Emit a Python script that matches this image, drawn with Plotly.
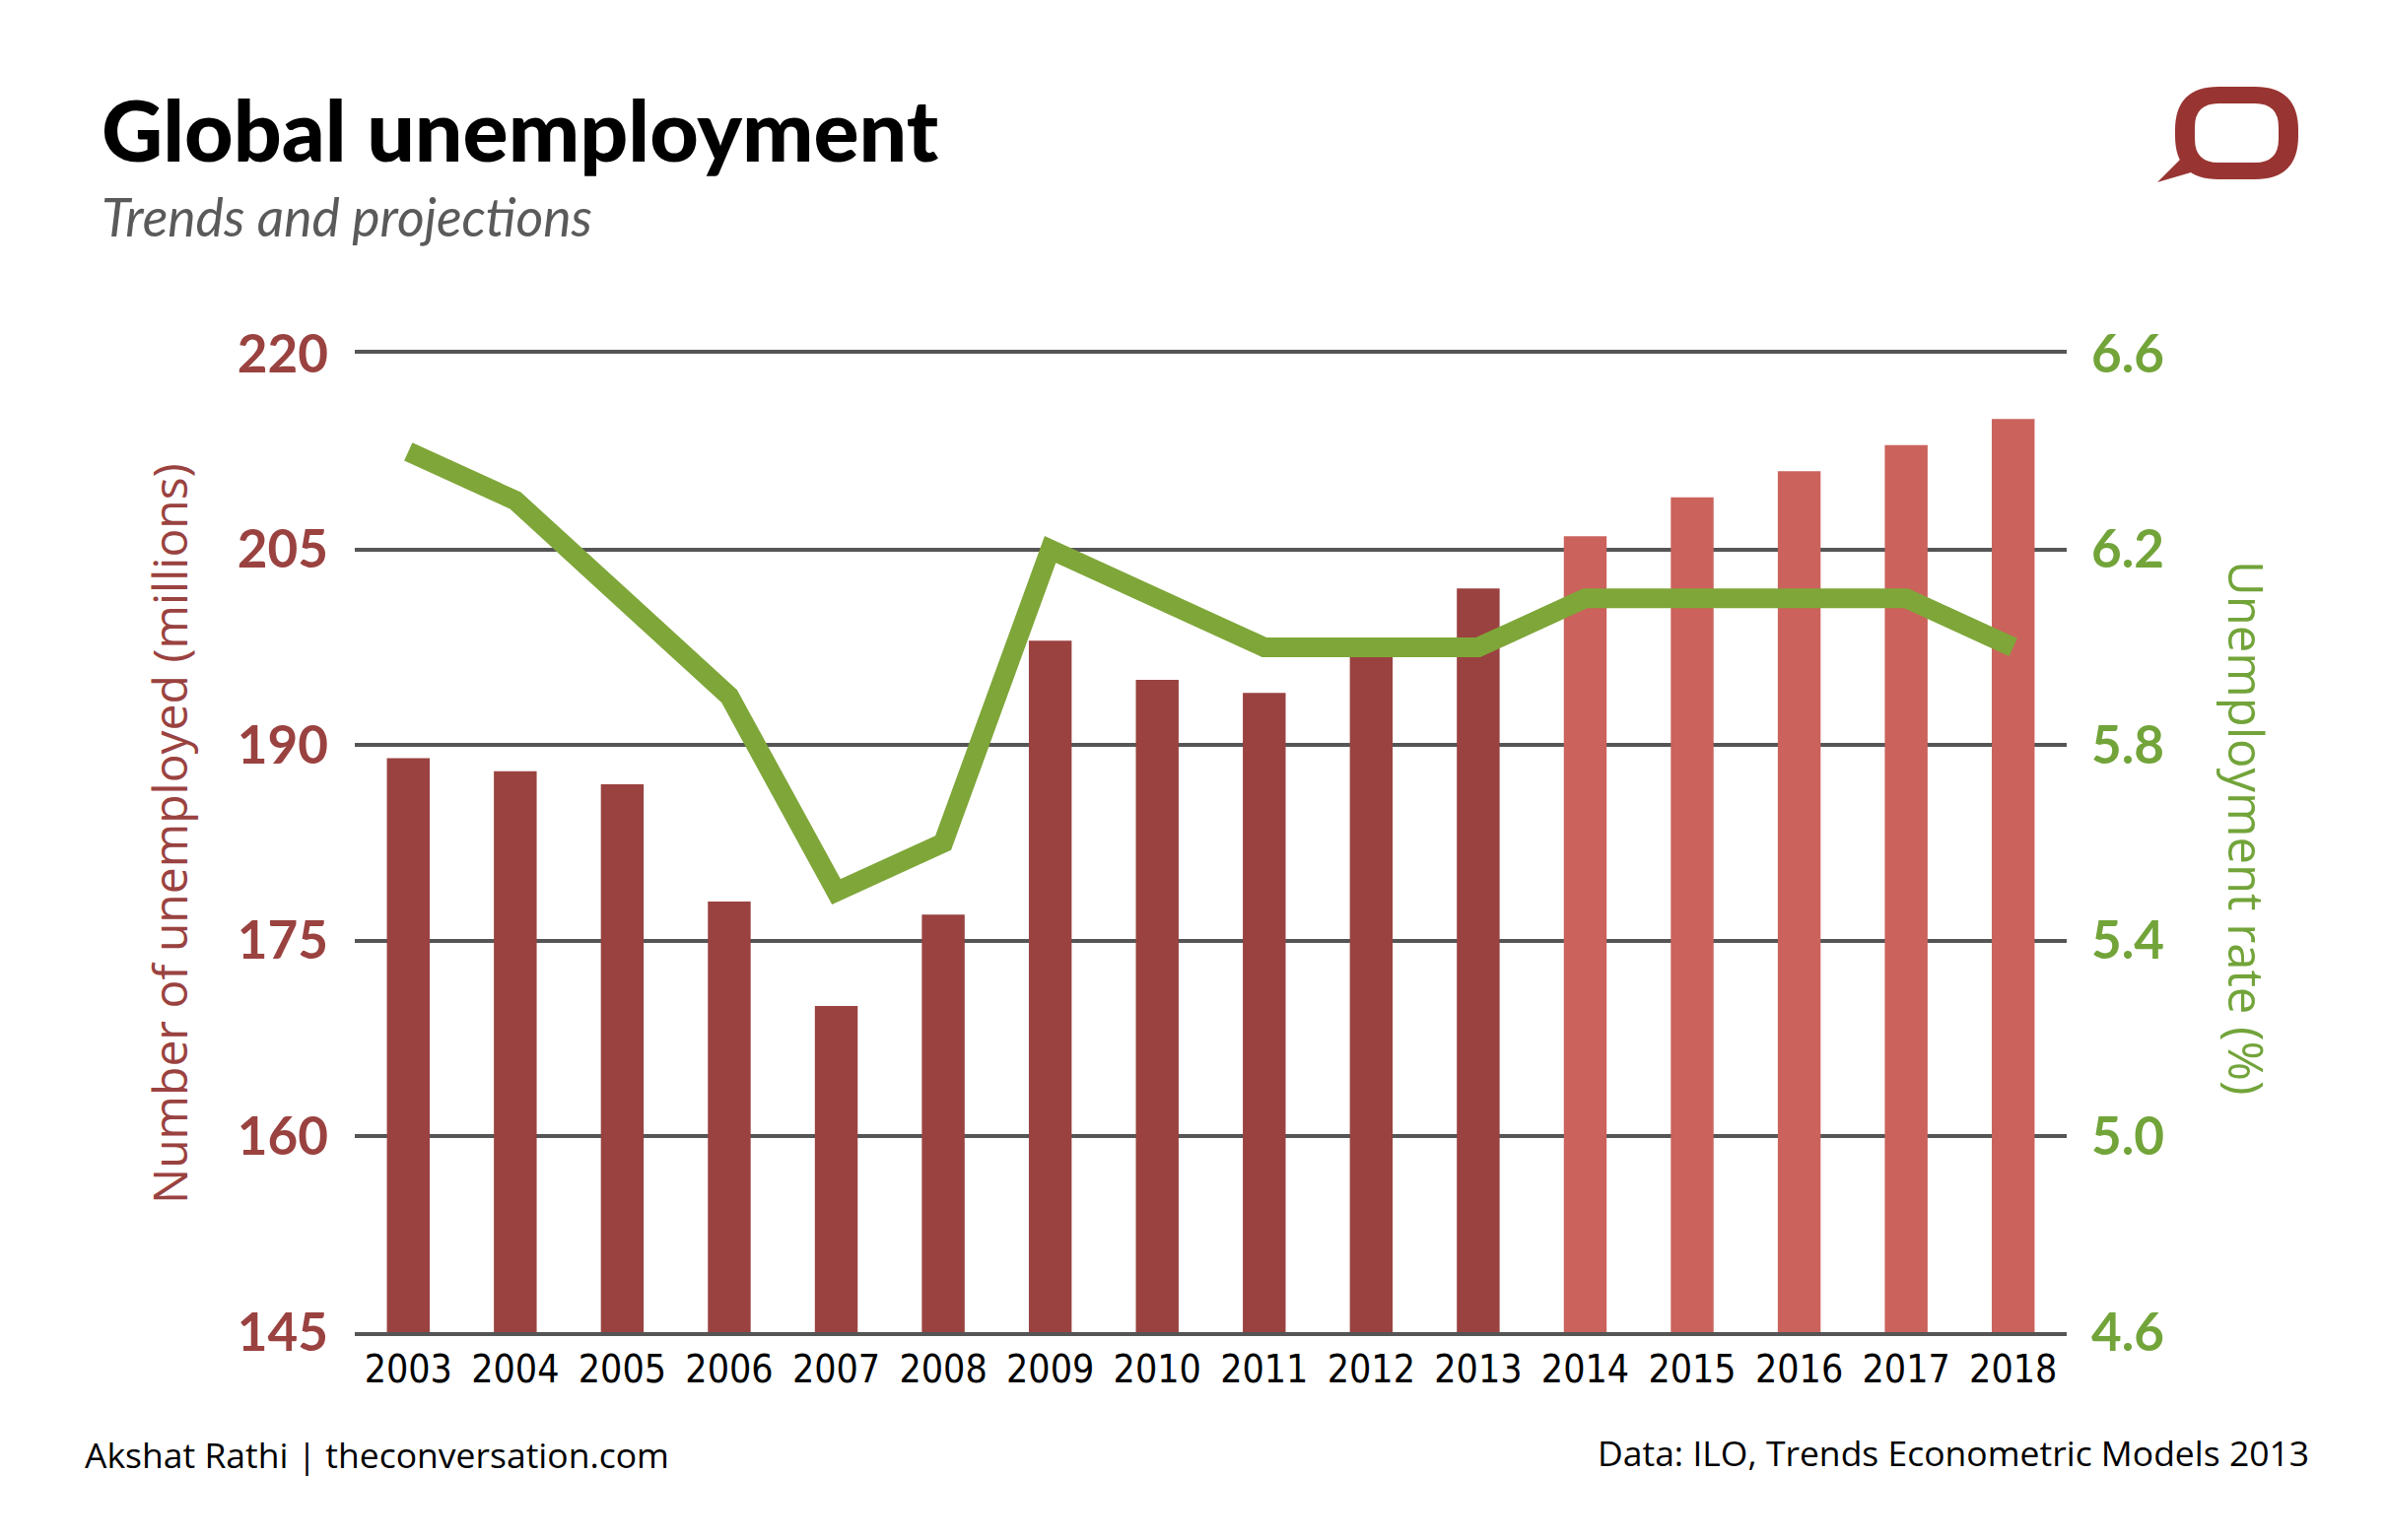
import plotly.graph_objects as go

# Global unemployment: trends (to 2013) and projections (2014 onwards)
years = ["2003", "2004", "2005", "2006", "2007", "2008", "2009", "2010",
         "2011", "2012", "2013", "2014", "2015", "2016", "2017", "2018"]
unemployed = [189, 188, 187, 178, 170, 177, 198, 195, 194, 197, 202,
              206, 209, 211, 213, 215]          # millions
rate = [6.4, 6.3, 6.1, 5.9, 5.5, 5.6, 6.2, 6.1, 6.0, 6.0, 6.0,
        6.1, 6.1, 6.1, 6.1, 6.0]                # percent
first_projection = "2014"

left_ticks = [145, 160, 175, 190, 205, 220]
right_ticks = [4.6, 5.0, 5.4, 5.8, 6.2, 6.6]

DARK_RED = "#9A4240"
LIGHT_RED = "#CB625C"
GREEN = "#7FA639"
GREEN_TXT = "#72A43A"
GRID = "#555555"
LOGO = "#983532"

PAGE_W, PAGE_H = 2421, 1563
OFF = 8                              # default body margin of the html page
W, H = PAGE_W - 2 * OFF, PAGE_H - 2 * OFF
L, R, T, B = 360, 2097, 359, 1352    # plot area in page pixels


def px_x(x):
    return (x - L) / (R - L)


def px_y(y):
    return (B - y) / (B - T)


bar_colors = [LIGHT_RED if int(y) >= int(first_projection) else DARK_RED for y in years]

fig = go.Figure()
fig.add_trace(go.Bar(x=years, y=unemployed, marker_color=bar_colors,
                     marker_line_width=0, yaxis="y", hoverinfo="x+y"))
fig.add_trace(go.Scatter(x=years, y=rate, mode="lines", yaxis="y2",
                         line=dict(color=GREEN, width=20)))

fig.update_layout(
    width=W, height=H, autosize=False,
    margin=dict(l=L - OFF, r=W + OFF - R, t=T - OFF, b=H + OFF - B),
    paper_bgcolor="white", plot_bgcolor="white",
    showlegend=False, bargap=0.6,
    xaxis=dict(type="category", showgrid=False, zeroline=False,
               showline=True, mirror=True, linecolor=GRID, linewidth=4, ticks="",
               tickfont=dict(family="Liberation Sans Narrow, DejaVu Sans Condensed",
                             size=39, color="black")),
    yaxis=dict(range=[145, 220], tickvals=left_ticks, showgrid=True,
               gridcolor=GRID, gridwidth=4, zeroline=False, showline=False,
               ticks="", ticklabelstandoff=26,
               tickfont=dict(family="Lato", size=53, color=DARK_RED, weight="bold")),
    yaxis2=dict(range=[4.6, 6.6], tickvals=right_ticks, tickformat=".1f",
                overlaying="y", side="right", showgrid=False, zeroline=False,
                showline=False, ticks="", ticklabelstandoff=24,
                tickfont=dict(family="Lato", size=53, color=GREEN_TXT, weight="bold")),
)

annotations = [
    dict(text="Global unemployment", x=px_x(101), y=px_y(130), xanchor="left",
         yanchor="middle", font=dict(family="Lato", size=86, color="black", weight=900)),
    dict(text="<i>Trends and projections</i>", x=px_x(101), y=px_y(219), xanchor="left",
         yanchor="middle", font=dict(family="Lato", size=53.5, color="#5A5A5A")),
    dict(text="Number of unemployed (millions)", x=px_x(171), y=px_y(846),
         xanchor="center", yanchor="middle", textangle=-90,
         font=dict(family="Open Sans", size=48, color=DARK_RED)),
    dict(text="Unemployment rate (%)", x=px_x(2280), y=px_y(840),
         xanchor="center", yanchor="middle", textangle=90,
         font=dict(family="Open Sans", size=49, color=GREEN_TXT)),
    dict(text="Akshat Rathi | theconversation.com", x=px_x(84), y=px_y(1476),
         xanchor="left", yanchor="middle",
         font=dict(family="Open Sans", size=35.5, color="black")),
    dict(text="Data: ILO, Trends Econometric Models 2013", x=px_x(2345), y=px_y(1474),
         xanchor="right", yanchor="middle",
         font=dict(family="Open Sans", size=35.5, color="black")),
]
for a in annotations:
    a.update(xref="paper", yref="paper", showarrow=False)
fig.update_layout(annotations=annotations)


# speech-bubble logo, top right
def rounded_rect(x0, y0, x1, y1, r):
    pts = [
        ("M", [(x0 + r, y0)]), ("L", [(x1 - r, y0)]), ("Q", [(x1, y0), (x1, y0 + r)]),
        ("L", [(x1, y1 - r)]), ("Q", [(x1, y1), (x1 - r, y1)]), ("L", [(x0 + r, y1)]),
        ("Q", [(x0, y1), (x0, y1 - r)]), ("L", [(x0, y0 + r)]), ("Q", [(x0, y0), (x0 + r, y0)]),
    ]
    out = ""
    for cmd, ps in pts:
        out += cmd + " ".join(f"{px_x(a):.5f},{px_y(b):.5f}" for a, b in ps) + " "
    return out + "Z "


bubble = rounded_rect(2207, 88, 2332, 182, 44) + rounded_rect(2227, 105, 2312, 165, 24)
tail = (f"M{px_x(2189):.5f},{px_y(185):.5f} L{px_x(2216):.5f},{px_y(158):.5f} "
        f"L{px_x(2230):.5f},{px_y(173):.5f} Z")
fig.add_shape(type="path", path=bubble, xref="paper", yref="paper",
              fillcolor=LOGO, fillrule="evenodd", line_width=0, layer="above")
fig.add_shape(type="path", path=tail, xref="paper", yref="paper",
              fillcolor=LOGO, line_width=0, layer="above")

fig.write_html("out.html")
